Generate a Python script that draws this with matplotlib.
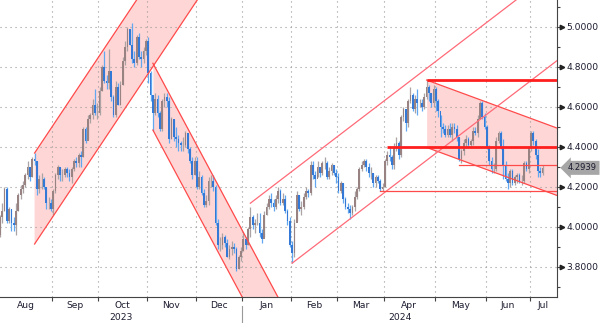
import numpy as np
import pandas as pd
import matplotlib
matplotlib.use('Agg')
import matplotlib.pyplot as plt
import matplotlib.transforms as mtransforms
from matplotlib.ticker import FixedLocator, FixedFormatter, MultipleLocator, NullFormatter

# trading calendar (bond market holidays dropped)
holidays = ['2023-09-04', '2023-10-09', '2023-11-23', '2023-12-25', '2024-01-01',
            '2024-01-15', '2024-02-19', '2024-03-29', '2024-05-27', '2024-06-19', '2024-07-04']
first_day = '2023-08-01'
last_day = '2024-07-09'
prev_close = 3.96

close = [
    # Aug
    4.05, 4.08, 4.19, 4.03, 4.09, 4.02, 4.01, 4.08, 4.16, 4.19, 4.21, 4.26, 4.30, 4.25,
    4.34, 4.33, 4.19, 4.24, 4.24, 4.20, 4.12, 4.12, 4.09,
    # Sep
    4.18, 4.26, 4.30, 4.26, 4.26, 4.29, 4.27, 4.25, 4.29, 4.33, 4.32, 4.36, 4.35, 4.49,
    4.43, 4.54, 4.56, 4.61, 4.57, 4.57,
    # Oct
    4.68, 4.80, 4.73, 4.72, 4.78, 4.65, 4.56, 4.70, 4.61, 4.71, 4.83, 4.90, 4.99, 4.91,
    4.84, 4.82, 4.95, 4.85, 4.84, 4.88, 4.93,
    # Nov
    4.77, 4.66, 4.57, 4.64, 4.57, 4.49, 4.63, 4.65, 4.63, 4.44, 4.54, 4.45, 4.44, 4.42,
    4.41, 4.41, 4.47, 4.39, 4.33, 4.26, 4.33,
    # Dec
    4.20, 4.25, 4.17, 4.11, 4.13, 4.23, 4.23, 4.20, 4.02, 3.91, 3.91, 3.95, 3.92, 3.85,
    3.89, 3.90, 3.89, 3.79, 3.85, 3.88,
    # Jan
    3.94, 3.91, 3.99, 4.05, 4.01, 4.02, 4.02, 3.97, 3.94, 4.06, 4.10, 4.14, 4.12, 4.10,
    4.14, 4.18, 4.12, 4.14, 4.08, 4.03, 3.91,
    # Feb
    3.87, 4.02, 4.16, 4.09, 4.10, 4.15, 4.18, 4.17, 4.31, 4.26, 4.24, 4.30, 4.27, 4.32,
    4.32, 4.25, 4.28, 4.31, 4.27, 4.25,
    # Mar
    4.18, 4.22, 4.14, 4.10, 4.09, 4.07, 4.10, 4.15, 4.19, 4.29, 4.31, 4.33, 4.30, 4.27,
    4.27, 4.22, 4.25, 4.23, 4.19, 4.20,
    # Apr
    4.33, 4.36, 4.35, 4.31, 4.40, 4.42, 4.36, 4.55, 4.59, 4.52, 4.63, 4.66, 4.59, 4.64,
    4.62, 4.62, 4.60, 4.65, 4.70, 4.67, 4.62, 4.69,
    # May
    4.63, 4.58, 4.50, 4.49, 4.46, 4.49, 4.46, 4.50, 4.49, 4.45, 4.34, 4.38, 4.42, 4.44,
    4.41, 4.43, 4.48, 4.47, 4.54, 4.62, 4.55, 4.50,
    # Jun
    4.40, 4.33, 4.29, 4.29, 4.43, 4.47, 4.40, 4.31, 4.24, 4.22, 4.28, 4.22, 4.25, 4.26,
    4.23, 4.23, 4.32, 4.29, 4.40,
    # Jul
    4.47, 4.43, 4.36, 4.28, 4.27, 4.2939,
]
high = [
    4.06, 4.12, 4.20, 4.20, 4.10, 4.09, 4.05, 4.12, 4.17, 4.21, 4.23, 4.27, 4.33, 4.30,
    4.35, 4.37, 4.33, 4.26, 4.27, 4.25, 4.20, 4.15, 4.14,
    4.19, 4.27, 4.31, 4.30, 4.29, 4.30, 4.30, 4.29, 4.30, 4.34, 4.35, 4.37, 4.38, 4.50,
    4.50, 4.56, 4.57, 4.64, 4.69, 4.62,
    4.70, 4.81, 4.88, 4.76, 4.89, 4.71, 4.66, 4.73, 4.72, 4.73, 4.85, 4.93, 5.00, 4.99,
    5.02, 4.88, 4.96, 4.97, 4.88, 4.90, 4.94,
    4.95, 4.78, 4.66, 4.67, 4.66, 4.58, 4.64, 4.67, 4.67, 4.65, 4.55, 4.54, 4.50, 4.46,
    4.43, 4.45, 4.48, 4.47, 4.40, 4.35, 4.35,
    4.35, 4.28, 4.26, 4.19, 4.16, 4.25, 4.26, 4.26, 4.21, 4.04, 3.95, 3.97, 3.96, 3.94,
    3.91, 3.93, 3.92, 3.90, 3.86, 3.90,
    3.97, 3.95, 4.00, 4.10, 4.06, 4.04, 4.07, 4.07, 3.99, 4.08, 4.12, 4.16, 4.17, 4.14,
    4.16, 4.20, 4.19, 4.17, 4.16, 4.09, 4.05,
    3.93, 4.04, 4.18, 4.16, 4.13, 4.17, 4.20, 4.19, 4.33, 4.33, 4.28, 4.33, 4.30, 4.33,
    4.35, 4.33, 4.30, 4.32, 4.31, 4.29,
    4.27, 4.23, 4.22, 4.15, 4.12, 4.11, 4.11, 4.18, 4.20, 4.30, 4.33, 4.34, 4.34, 4.32,
    4.30, 4.27, 4.26, 4.26, 4.24, 4.22,
    4.34, 4.38, 4.40, 4.36, 4.42, 4.45, 4.43, 4.56, 4.60, 4.59, 4.64, 4.70, 4.67, 4.66,
    4.69, 4.64, 4.64, 4.67, 4.74, 4.71, 4.67, 4.71,
    4.70, 4.64, 4.56, 4.52, 4.51, 4.51, 4.52, 4.52, 4.52, 4.51, 4.45, 4.39, 4.44, 4.46,
    4.45, 4.44, 4.50, 4.50, 4.56, 4.63, 4.63, 4.57,
    4.51, 4.41, 4.35, 4.32, 4.45, 4.48, 4.48, 4.44, 4.33, 4.27, 4.29, 4.29, 4.26, 4.27,
    4.27, 4.26, 4.33, 4.33, 4.40,
    4.48, 4.48, 4.44, 4.39, 4.30, 4.31,
]
low = [
    3.95, 4.02, 4.08, 4.02, 4.02, 3.98, 3.98, 3.96, 4.08, 4.14, 4.17, 4.20, 4.24, 4.23,
    4.25, 4.31, 4.16, 4.17, 4.19, 4.19, 4.09, 4.09, 4.08,
    4.06, 4.17, 4.24, 4.23, 4.23, 4.25, 4.25, 4.23, 4.22, 4.28, 4.30, 4.30, 4.30, 4.35,
    4.42, 4.44, 4.52, 4.54, 4.56, 4.54,
    4.56, 4.68, 4.72, 4.69, 4.69, 4.63, 4.55, 4.55, 4.61, 4.61, 4.71, 4.81, 4.88, 4.91,
    4.82, 4.80, 4.81, 4.84, 4.80, 4.82, 4.86,
    4.72, 4.63, 4.48, 4.56, 4.55, 4.48, 4.48, 4.60, 4.60, 4.42, 4.44, 4.43, 4.40, 4.38,
    4.38, 4.38, 4.40, 4.37, 4.32, 4.24, 4.26,
    4.19, 4.19, 4.16, 4.10, 4.10, 4.11, 4.20, 4.18, 4.01, 3.89, 3.88, 3.89, 3.90, 3.85,
    3.84, 3.86, 3.87, 3.78, 3.79, 3.83,
    3.88, 3.89, 3.91, 3.95, 3.99, 3.97, 4.01, 3.95, 3.92, 3.95, 4.06, 4.09, 4.10, 4.08,
    4.09, 4.12, 4.11, 4.11, 4.07, 4.01, 3.90,
    3.82, 3.85, 4.03, 4.08, 4.06, 4.09, 4.14, 4.15, 4.16, 4.24, 4.20, 4.25, 4.25, 4.26,
    4.29, 4.24, 4.24, 4.26, 4.26, 4.22,
    4.17, 4.17, 4.12, 4.09, 4.07, 4.04, 4.06, 4.08, 4.14, 4.18, 4.28, 4.30, 4.28, 4.25,
    4.24, 4.20, 4.20, 4.22, 4.18, 4.18,
    4.20, 4.31, 4.33, 4.29, 4.29, 4.38, 4.34, 4.35, 4.53, 4.48, 4.50, 4.62, 4.58, 4.57,
    4.56, 4.60, 4.58, 4.59, 4.64, 4.63, 4.60, 4.60,
    4.58, 4.55, 4.45, 4.47, 4.45, 4.45, 4.45, 4.43, 4.47, 4.43, 4.33, 4.32, 4.36, 4.40,
    4.40, 4.40, 4.41, 4.46, 4.45, 4.54, 4.54, 4.49,
    4.39, 4.31, 4.27, 4.27, 4.28, 4.42, 4.39, 4.24, 4.23, 4.19, 4.20, 4.21, 4.21, 4.22,
    4.22, 4.21, 4.22, 4.28, 4.27,
    4.38, 4.41, 4.34, 4.25, 4.25, 4.26,
]

# trend channels drawn on the chart: [start, end] dates with upper / lower levels
ch1_dates = ['2023-08-22', '2023-12-05']
ch1_upper = [4.368, 5.621]
ch1_lower = [3.913, 5.166]
ch2_dates = ['2023-11-03', '2024-01-26']
ch2_upper = [4.817, 3.602]
ch2_lower = [4.483, 3.268]
ch4_dates = ['2024-04-25', '2024-07-31']
ch4_upper = [4.733, 4.451]
ch4_lower = [4.396, 4.114]
# open (unfilled) rising channel
ch3_upper_dates = ['2024-01-05', '2024-07-31']
ch3_upper = [4.117, 5.377]
ch3_lower_dates = ['2024-02-01', '2024-07-31']
ch3_lower = [3.817, 4.917]
# horizontal levels
thick_levels = [4.735, 4.40]
thick_starts = ['2024-04-25', '2024-04-02']
thin_levels = [4.308, 4.18]
thin_starts = ['2024-05-15', '2024-03-27']
thin_ends = '2024-07-31'

yticks = [3.8, 4.0, 4.2, 4.4, 4.6, 4.8, 5.0]

dates = pd.bdate_range(first_day, last_day, freq='C', holidays=holidays)
close = np.array(close)
high = np.array(high)
low = np.array(low)
assert len(dates) == len(close) == len(high) == len(low)
opens = np.r_[prev_close, close[:-1]]
x = np.arange(len(dates))


def idx(d):
    return np.busday_count(first_day, d, holidays=holidays)


fig = plt.figure(figsize=(6.0, 3.23), dpi=100)
ax = fig.add_axes([0.0, 26 / 323, 557 / 600, 297 / 323])
ax.set_axisbelow('line')

pink = '#ffd6d6'
red = '#ff4a4a'
for cd, cu, cl in [(ch1_dates, ch1_upper, ch1_lower),
                   (ch2_dates, ch2_upper, ch2_lower),
                   (ch4_dates, ch4_upper, ch4_lower)]:
    xs = [idx(d) for d in cd]
    ax.fill_between(xs, cl, cu, color=pink, lw=0, zorder=1)
    ax.plot(xs, cu, color=red, lw=0.9, zorder=5)
    ax.plot(xs, cl, color=red, lw=0.9, zorder=5)

ax.plot([idx(d) for d in ch3_upper_dates], ch3_upper, color='#ff6a78', lw=0.9, zorder=5)
ax.plot([idx(d) for d in ch3_lower_dates], ch3_lower, color='#ff6a78', lw=0.9, zorder=5)

for lv, st in zip(thick_levels, thick_starts):
    ax.plot([idx(st), idx(thin_ends)], [lv, lv], color='#ff1e1e', lw=2.0, zorder=6,
            solid_capstyle='butt')
for lv, st in zip(thin_levels, thin_starts):
    ax.plot([idx(st), idx(thin_ends)], [lv, lv], color='#ff4a4a', lw=0.9, zorder=5)

# candles
up = close >= opens
dn = ~up
ax.vlines(x[up], low[up], high[up], color='#aca4a4', lw=0.9, zorder=3)
ax.vlines(x[dn], low[dn], high[dn], color='#62a8f0', lw=0.9, zorder=3)
ax.bar(x[up], (close - opens)[up], bottom=opens[up], width=0.75, color='#988282',
       lw=0, zorder=4)
ax.bar(x[dn], (close - opens)[dn], bottom=opens[dn], width=0.75, color='#3479d6',
       lw=0, zorder=4)

ax.set_xlim(0.09, 240.2)
ax.set_ylim(3.648, 5.1333)

# month ticks at boundaries, labels mid-month
months = dates.to_period('M')
starts = np.r_[0, np.nonzero(months[1:] != months[:-1])[0] + 1]
bounds = list(starts - 0.5)
lo, hi = ax.get_xlim()
edges = [max(b, lo) for b in bounds] + [hi]
mids = [(edges[i] + edges[i + 1]) / 2 for i in range(len(bounds))]
names = [dates[s].strftime('%b') for s in starts]
ax.xaxis.set_major_locator(FixedLocator(bounds))
ax.xaxis.set_major_formatter(NullFormatter())
ax.xaxis.set_minor_locator(FixedLocator(mids))
ax.xaxis.set_minor_formatter(FixedFormatter(names))
ax.tick_params(axis='x', which='major', length=3, width=0.8, color='#444444')
ax.tick_params(axis='x', which='minor', length=0, pad=3, labelsize=6.6, labelcolor='#1c1c30')

ax.yaxis.tick_right()
ax.set_yticks(yticks)
ax.set_yticklabels(['%.4f' % v for v in yticks])
ax.yaxis.set_minor_locator(MultipleLocator(0.1))
ax.tick_params(axis='y', which='major', length=2.5, width=0.8, color='#444444', pad=4,
               labelsize=6.6, labelcolor='#1c1c30')
ax.tick_params(axis='y', which='minor', length=2.5, width=0.8, color='#444444')

ax.grid(True, which='major', color='#999999', linestyle=(0, (1, 3.5)), linewidth=0.8)

for s in ['left', 'top']:
    ax.spines[s].set_visible(False)
for s in ['bottom', 'right']:
    ax.spines[s].set_color('#444444')
    ax.spines[s].set_linewidth(0.8)

# arrow heads on the value axis
ytrans = mtransforms.blended_transform_factory(ax.transAxes, ax.transData)
ax.plot(np.ones(len(yticks)), yticks, ls='none', marker='>', ms=3.2, color='#222222',
        transform=mtransforms.offset_copy(ytrans, fig, x=5, units='dots'), clip_on=False)

# year labels
xtrans = mtransforms.blended_transform_factory(ax.transData, ax.transAxes)
jan = bounds[names.index('Jan')]
ax.text((lo + jan) / 2, -0.068, str(dates[0].year), transform=xtrans, ha='center',
        va='center', fontsize=6.6, color='#1c1c30')
ax.text((jan + hi) / 2, -0.068, str(dates[-1].year), transform=xtrans, ha='center',
        va='center', fontsize=6.6, color='#1c1c30')
ax.plot([jan, jan], [-0.03, -0.09], transform=xtrans, color='#999999', lw=0.8, clip_on=False)

# last value tag
ax.text(1.0, close[-1], '%.4f' % close[-1], fontsize=6.0, color='#1c1c30', ha='left',
        va='center', transform=mtransforms.offset_copy(ytrans, fig, x=11, units='dots'),
        bbox=dict(boxstyle='larrow,pad=0.3', fc='#a6a6a6', ec='none'), zorder=10)

fig.savefig('out.png', dpi=100)
